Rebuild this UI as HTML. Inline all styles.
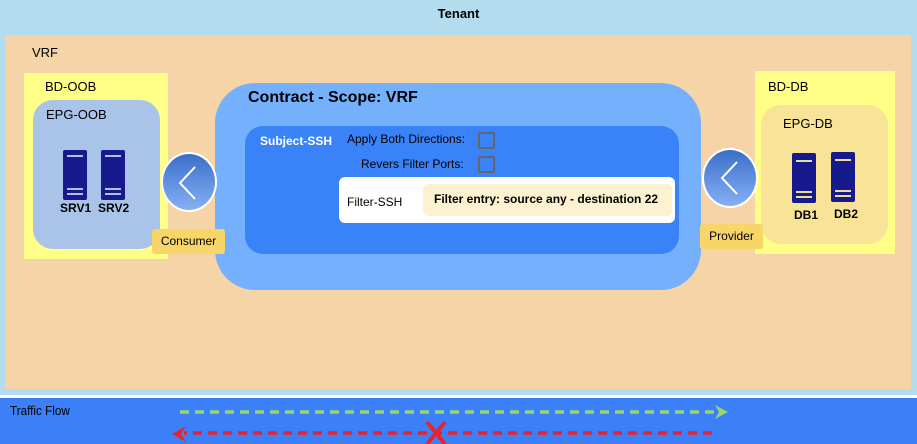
<!DOCTYPE html>
<html><head><style>
body{margin:0;width:917px;height:444px;position:relative;overflow:hidden;background:#b3dcef;font-family:"Liberation Sans",sans-serif;font-size:13px;color:#000}
div{position:absolute;box-sizing:border-box}
.t{white-space:nowrap}
.srv{width:24px;height:50px;background:#161a8c;border-radius:2px}
.srv i{position:absolute;left:4px;width:16px;height:2px;background:#a9c4e8}
.circ{width:56px;height:60px;border-radius:50%;border:2px solid #fff;background:linear-gradient(#3a6fc8,#86b0f4)}
.cb{width:17px;height:17px;border:2px solid #666;border-radius:2px}
</style></head><body>
<div class="t" style="left:0;width:917px;top:6px;text-align:center;font-weight:bold;font-size:13px">Tenant</div>
<div style="left:6px;top:35px;width:905px;height:354px;background:#f5d5a8"></div>
<div class="t" style="left:32px;top:45px">VRF</div>
<div style="left:0;top:395px;width:917px;height:3px;background:#fff"></div>
<div style="left:0;top:398px;width:917px;height:46px;background:#3b80f9"></div>
<div class="t" style="left:10px;top:403px;font-size:13px;transform:scaleX(.9);transform-origin:left">Traffic Flow</div>
<svg style="position:absolute;left:0;top:398px" width="917" height="46">
<line x1="180" y1="14" x2="715" y2="14" stroke="#9bd46a" stroke-width="3.5" stroke-dasharray="9,6"/>
<polygon points="715,7 728,14 715,21 719,14" fill="#9bd46a"/>
<line x1="712" y1="35" x2="184" y2="35" stroke="#e8232d" stroke-width="3.5" stroke-dasharray="9,6"/>
<polygon points="186,28 172,36 186,44 181,36" fill="#e8232d"/>
<path d="M427 24 L445 46 M445 24 L427 46" stroke="#e8232d" stroke-width="4"/>
</svg>
<div style="left:24px;top:73px;width:144px;height:186px;background:#ffff88"></div>
<div class="t" style="left:45px;top:79px">BD-OOB</div>
<div style="left:33px;top:100px;width:127px;height:149px;border-radius:20px;background:#a9c4e8"></div>
<div class="t" style="left:46px;top:107px">EPG-OOB</div>
<div class="srv" style="left:63px;top:150px"><i style="top:5px"></i><i style="top:38px"></i><i style="top:43px"></i></div>
<div class="srv" style="left:101px;top:150px"><i style="top:5px"></i><i style="top:38px"></i><i style="top:43px"></i></div>
<div class="t" style="left:60px;top:201px;font-weight:bold;font-size:12px">SRV1</div>
<div class="t" style="left:98px;top:201px;font-weight:bold;font-size:12px">SRV2</div>
<div style="left:755px;top:71px;width:140px;height:183px;background:#ffff88"></div>
<div class="t" style="left:768px;top:79px">BD-DB</div>
<div style="left:761px;top:105px;width:127px;height:139px;border-radius:20px;background:#f9e397"></div>
<div class="t" style="left:783px;top:116px">EPG-DB</div>
<div class="srv" style="left:792px;top:153px;background:#161a8c"><i style="top:7px;background:#d8e59a"></i><i style="top:38px;background:#f0dc9a"></i><i style="top:43px;background:#f0dc9a"></i></div>
<div class="srv" style="left:831px;top:152px"><i style="top:7px;background:#f0dc9a"></i><i style="top:38px;background:#f0dc9a"></i><i style="top:43px;background:#f0dc9a"></i></div>
<div class="t" style="left:794px;top:208px;font-weight:bold;font-size:12px">DB1</div>
<div class="t" style="left:834px;top:207px;font-weight:bold;font-size:12px">DB2</div>
<div style="left:215px;top:83px;width:486px;height:207px;border-radius:40px;background:#74b0fb"></div>
<div class="t" style="left:248px;top:89px;font-weight:bold;font-size:16px">Contract - Scope: VRF</div>
<div style="left:245px;top:126px;width:434px;height:128px;border-radius:18px;background:#3a82f8"></div>
<div class="t" style="left:260px;top:134px;font-weight:bold;font-size:12px;color:#fff">Subject-SSH</div>
<div class="t" style="left:347px;top:132px;font-size:12px">Apply Both Directions:</div>
<div class="cb" style="left:478px;top:132px"></div>
<div class="t" style="left:361px;top:157px;font-size:12px">Revers Filter Ports:</div>
<div class="cb" style="left:478px;top:156px"></div>
<div style="left:339px;top:177px;width:336px;height:46px;border-radius:6px;background:#fff"></div>
<div class="t" style="left:347px;top:195px;font-size:12px">Filter-SSH</div>
<div style="left:423px;top:184px;width:249px;height:32px;border-radius:5px;background:#fcf2d0"></div>
<div class="t" style="left:434px;top:192px;font-size:12px;font-weight:bold">Filter entry: source any - destination 22</div>
<div class="circ" style="left:161px;top:152px"></div>
<svg style="position:absolute;left:161px;top:152px" width="56" height="60"><polyline points="34,15 19,31 34,47" fill="none" stroke="#fff" stroke-width="2"/></svg>
<div class="circ" style="left:702px;top:148px"></div>
<svg style="position:absolute;left:702px;top:148px" width="56" height="60"><polyline points="35,14 20,30 35,46" fill="none" stroke="#fff" stroke-width="2"/></svg>
<div class="t" style="left:152px;top:229px;width:73px;height:25px;border-radius:3px;background:#f8d568;font-size:12px;text-align:center;line-height:25px">Consumer</div>
<div class="t" style="left:700px;top:224px;width:63px;height:25px;border-radius:3px;background:#f8d568;font-size:12px;text-align:center;line-height:25px">Provider</div>
</body></html>
